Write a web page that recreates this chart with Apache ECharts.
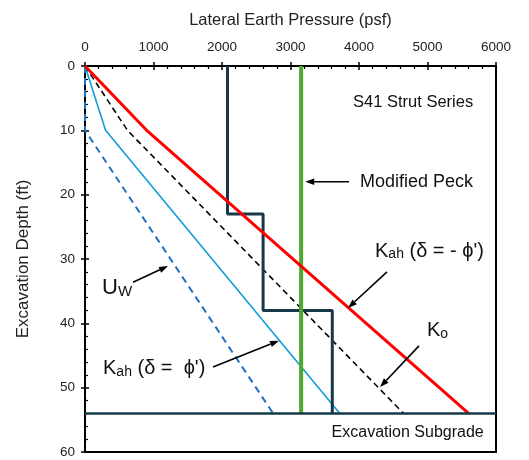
<!DOCTYPE html>
<html>
<head>
<meta charset="utf-8">
<script src="https://cdn.jsdelivr.net/npm/echarts@6/dist/echarts.min.js"></script>
<style>
  html, body { margin: 0; padding: 0; background: #fff; }
  #chart { width: 529px; height: 460px; }
</style>
</head>
<body>
<div id="chart"></div>
<script>
// Lateral earth pressure envelopes vs. excavation depth (x = psf, y = ft)
const xTicks = [0, 1000, 2000, 3000, 4000, 5000, 6000];
const yTicks = [0, 10, 20, 30, 40, 50, 60];

// Hydrostatic water pressure below the water table at 10 ft
const uwPoints = [[0, 0], [0, 10], [2746, 54]];
// Active pressure, wall friction delta = phi'
const kahPosPoints = [[0, 0], [300, 10], [3720, 54]];
// At-rest pressure
const koPoints = [[0, 0], [620, 10], [4650, 54]];
// Active pressure, wall friction delta = -phi'
const kahNegPoints = [[0, 0], [900, 10], [5600, 54]];
// S41 strut series apparent pressure steps
const strutPoints = [[2080, 0], [2080, 23], [2600, 23], [2600, 38], [3610, 38], [3610, 54]];
// Modified Peck apparent pressure
const peckPressure = 3155;
const peckPoints = [[peckPressure, 0], [peckPressure, 54]];
// Excavation subgrade
const subgradeDepth = 54;
const subgradePoints = [[0, subgradeDepth], [6000, subgradeDepth]];

const FONT = 'Liberation Sans, Arial, sans-serif';

const chart = echarts.init(document.getElementById('chart'), null, { renderer: 'canvas' });

function axisPair(kind) {
  const isX = kind === 'x';
  const base = {
    type: 'value',
    min: isX ? xTicks[0] : yTicks[0],
    max: isX ? xTicks[xTicks.length - 1] : yTicks[yTicks.length - 1],
    interval: isX ? 1000 : 10,
    splitLine: { show: false }
  };
  if (isX) base.position = 'top'; else { base.position = 'left'; base.inverse = true; }
  const main = Object.assign({}, base, {
    axisLine: { show: true, onZero: false, lineStyle: { color: '#000', width: 2 } },
    axisTick: { show: true, inside: false, length: 4, lineStyle: { color: '#000', width: 1.5 } },
    minorTick: { show: false },
    axisLabel: {
      show: true, color: '#222', fontSize: 13.5, fontFamily: FONT, margin: isX ? 12 : 10,
      formatter: function (v) { return String(v); }
    },
    name: isX ? 'Lateral Earth Pressure (psf)' : 'Excavation Depth (ft)',
    nameLocation: 'middle',
    nameGap: isX ? 37 : 53,
    nameTextStyle: { color: '#222', fontSize: isX ? 16.5 : 17, fontFamily: FONT }
  });
  const inner = Object.assign({}, base, {
    axisLine: { show: false },
    axisTick: { show: true, inside: true, length: 4, lineStyle: { color: '#000', width: 1.5 } },
    minorTick: { show: true, splitNumber: 5, length: 3, lineStyle: { color: '#000', width: 1.2 } },
    axisLabel: { show: false }
  });
  return [main, inner];
}

const lineBase = { type: 'line', xAxisIndex: 0, yAxisIndex: 0, symbol: 'none', silent: true, animation: false };

chart.setOption({
  animation: false,
  backgroundColor: '#fff',
  grid: { left: 85, right: 33, top: 66, bottom: 8, show: true, borderColor: '#000', borderWidth: 2, backgroundColor: 'transparent' },
  xAxis: axisPair('x'),
  yAxis: axisPair('y'),
  series: [
    Object.assign({}, lineBase, { name: 'Uw', data: uwPoints, lineStyle: { color: '#1F6FC4', width: 2, type: [7, 5] } }),
    Object.assign({}, lineBase, { name: 'Kah (δ = ϕ\')', data: kahPosPoints, lineStyle: { color: '#0F9ED5', width: 1.6 } }),
    Object.assign({}, lineBase, { name: 'Ko', data: koPoints, lineStyle: { color: '#000', width: 1.6, type: [6, 4] } }),
    Object.assign({}, lineBase, { name: 'S41 Strut Series', data: strutPoints, lineStyle: { color: '#163849', width: 3 } }),
    Object.assign({}, lineBase, { name: 'Modified Peck', data: peckPoints, lineStyle: { color: '#4EA72E', width: 4 } }),
    Object.assign({}, lineBase, { name: 'Kah (δ = - ϕ\')', data: kahNegPoints, lineStyle: { color: '#FF0000', width: 3 } }),
    Object.assign({}, lineBase, { name: 'Excavation Subgrade', data: subgradePoints, lineStyle: { color: '#163849', width: 2.5 } })
  ]
});

// Callout texts and arrows, anchored in data units (psf, ft)
const callouts = [
  { text: 'S41 Strut Series', at: [3913, 5.6], style: 'plain', size: 16.5 },
  { text: 'Modified Peck', at: [4015, 18], style: 'plain', size: 18, arrow: [[3854, 18], [3215, 18]] },
  { text: '{k|K}{s|ah}{k| (δ = - ϕ\')}', at: [4234, 28.6], style: 'rich', arrow: [[4409, 32.0], [3840, 37.6]] },
  { text: '{k|K}{s|o}', at: [4993, 41.0], style: 'rich', arrow: [[4876, 43.5], [4307, 49.9]] },
  { text: '{u|U}{w|W}', at: [248, 34.4], style: 'rich', arrow: [[701, 33.6], [1212, 31.1]] },
  { text: '{k|K}{s|ah}{k| (δ =  ϕ\')}', at: [263, 46.9], style: 'rich', arrow: [[1869, 46.8], [2832, 42.7]] },
  { text: 'Excavation Subgrade', at: [3600, 57], style: 'plain', size: 16 }
];

const rich = {
  k: { fontSize: 20, fontFamily: FONT, color: '#111', verticalAlign: 'bottom', lineHeight: 22 },
  s: { fontSize: 14, fontFamily: FONT, color: '#111', padding: [8, 0, 0, 0], verticalAlign: 'bottom', lineHeight: 22 },
  u: { fontSize: 22, fontFamily: FONT, color: '#111', verticalAlign: 'bottom', lineHeight: 24 },
  w: { fontSize: 15, fontFamily: FONT, color: '#111', padding: [8, 0, 0, 0], verticalAlign: 'bottom', lineHeight: 24 }
};

const elements = [];
callouts.forEach(function (c) {
  const p = chart.convertToPixel({ gridIndex: 0 }, c.at);
  const style = { x: p[0], y: p[1], textVerticalAlign: 'middle', textAlign: 'left', fill: '#111', fontFamily: FONT };
  if (c.style === 'rich') { style.text = c.text; style.rich = rich; }
  else { style.text = c.text; style.fontSize = c.size; }
  elements.push({ type: 'text', silent: true, z: 100, style: style });
  if (c.arrow) {
    const a = chart.convertToPixel({ gridIndex: 0 }, c.arrow[0]);
    const b = chart.convertToPixel({ gridIndex: 0 }, c.arrow[1]);
    const ang = Math.atan2(b[1] - a[1], b[0] - a[0]);
    const hl = 9, hw = 3.2;
    const bx = b[0] - hl * Math.cos(ang), by = b[1] - hl * Math.sin(ang);
    elements.push({ type: 'line', silent: true, z: 100, shape: { x1: a[0], y1: a[1], x2: bx, y2: by }, style: { stroke: '#000', lineWidth: 1.6 } });
    elements.push({
      type: 'polygon', silent: true, z: 100,
      shape: { points: [
        [b[0], b[1]],
        [bx - hw * Math.sin(ang), by + hw * Math.cos(ang)],
        [bx + hw * Math.sin(ang), by - hw * Math.cos(ang)]
      ] },
      style: { fill: '#000' }
    });
  }
});
chart.setOption({ graphic: { elements: elements } });
</script>
</body>
</html>
